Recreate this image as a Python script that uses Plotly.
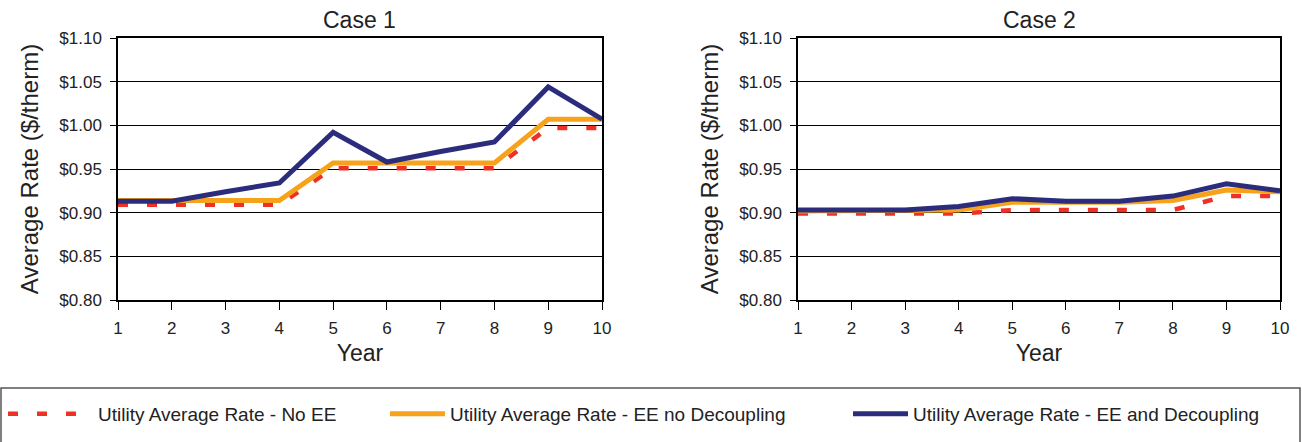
import plotly.graph_objects as go
from plotly.subplots import make_subplots

years = [1, 2, 3, 4, 5, 6, 7, 8, 9, 10]

case1_no_ee = [0.909, 0.909, 0.909, 0.909, 0.951, 0.951, 0.951, 0.951, 0.997, 0.997]
case1_ee_no_dec = [0.914, 0.914, 0.914, 0.914, 0.957, 0.957, 0.957, 0.957, 1.007, 1.007]
case1_ee_dec = [0.913, 0.913, 0.924, 0.934, 0.992, 0.958, 0.970, 0.981, 1.044, 1.007]

case2_no_ee = [0.899, 0.899, 0.899, 0.899, 0.903, 0.903, 0.903, 0.903, 0.919, 0.919]
case2_ee_no_dec = [0.902, 0.902, 0.902, 0.903, 0.912, 0.912, 0.912, 0.914, 0.926, 0.924]
case2_ee_dec = [0.903, 0.903, 0.903, 0.907, 0.916, 0.913, 0.913, 0.919, 0.933, 0.925]

series_names = ["Utility Average Rate - No EE",
                "Utility Average Rate - EE no Decoupling",
                "Utility Average Rate - EE and Decoupling"]
subplot_titles = ["Case 1", "Case 2"]
y_ticks = [0.80, 0.85, 0.90, 0.95, 1.00, 1.05, 1.10]
y_ticktext = ["$%.2f" % v for v in y_ticks]

FONT = "Liberation Sans, Arial, sans-serif"
RED = "#EE3124"
ORANGE = "#F7A21B"
NAVY = "#2B2C7C"
TXT = "#222222"

fig = make_subplots(rows=1, cols=2)

legend_ids = ["legend", "legend2", "legend3"]
for col, data in [(1, (case1_no_ee, case1_ee_no_dec, case1_ee_dec)),
                  (2, (case2_no_ee, case2_ee_no_dec, case2_ee_dec))]:
    styles = [dict(color=RED, width=4.5, dash="10px,19px"),
              dict(color=ORANGE, width=5),
              dict(color=NAVY, width=5)]
    for i, (vals, name, st) in enumerate(zip(data, series_names, styles)):
        fig.add_trace(go.Scatter(x=years, y=vals, mode="lines", name=name,
                                 line=st, showlegend=(col == 1),
                                 legend=legend_ids[i]),
                      row=1, col=col)

x_domains = [[118 / 1302, 602 / 1302], [798 / 1302, 1280 / 1302]]
y_domain = [(442 - 300) / 442, (442 - 38) / 442]

for i, ax in enumerate(["xaxis", "xaxis2"]):
    fig.layout[ax].update(domain=x_domains[i], range=[1, 10], tickvals=years,
                          showline=True, linecolor="black", linewidth=1.5,
                          mirror=True, ticks="outside", ticklen=8,
                          tickcolor="black", showgrid=False, zeroline=False,
                          automargin=False, ticklabelstandoff=4,
                          tickfont=dict(size=17, color=TXT),
                          title=dict(text="Year", font=dict(size=23, color=TXT),
                                     standoff=8))
for i, ax in enumerate(["yaxis", "yaxis2"]):
    fig.layout[ax].update(domain=y_domain, range=[0.80, 1.10], tickvals=y_ticks,
                          ticktext=y_ticktext,
                          showline=True, linecolor="black", linewidth=1.5,
                          mirror=True, ticks="outside", ticklen=6,
                          tickcolor="black", showgrid=True, gridcolor="black",
                          gridwidth=1, zeroline=False, automargin=False,
                          ticklabelstandoff=5,
                          tickfont=dict(size=17, color=TXT),
                          title=dict(text="Average Rate ($/therm)",
                                     font=dict(size=24, color=TXT), standoff=14))

for i, t in enumerate(subplot_titles):
    xc = (x_domains[i][0] + x_domains[i][1]) / 2
    fig.add_annotation(text=t, x=xc, y=(442 - 20) / 442, xref="paper", yref="paper",
                       showarrow=False, font=dict(size=23, color=TXT, family=FONT),
                       xanchor="center", yanchor="middle")

# legend box
fig.add_shape(type="rect", xref="paper", yref="paper",
              x0=1 / 1302, x1=1300 / 1302, y0=-0.01, y1=(442 - 388) / 442,
              line=dict(color="#555", width=1.5))

legend_x = [3, 385, 848]
legend_itemw = [85, 55, 55]
leg_layout = {}
for lid, lx, iw in zip(legend_ids, legend_x, legend_itemw):
    leg_layout[lid] = dict(x=lx / 1302, y=(442 - 414) / 442, orientation="h",
                           xanchor="left", yanchor="middle",
                           font=dict(size=19, color=TXT, family=FONT),
                           bgcolor="rgba(0,0,0,0)", borderwidth=0, itemwidth=iw)

fig.update_layout(
    width=1302, height=442,
    margin=dict(l=0, r=0, t=0, b=0, autoexpand=False),
    paper_bgcolor="white", plot_bgcolor="white",
    font=dict(family=FONT, color=TXT),
    **leg_layout,
)

fig.write_html("out.html", config={"displayModeBar": False},
               post_script="document.body.style.margin='0';document.body.style.overflow='hidden';")
